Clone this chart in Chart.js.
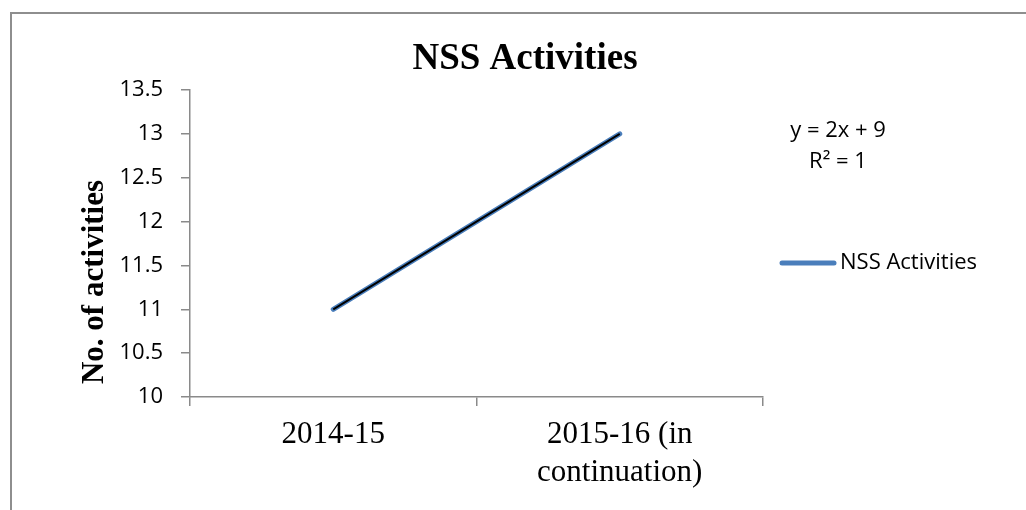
<!DOCTYPE html>
<html><head><meta charset="utf-8">
<script src="https://cdn.jsdelivr.net/npm/chart.js@4"></script>
<style>html,body{margin:0;padding:0;background:#fff;}#wrap{width:1026px;height:510px;position:relative;}</style>
</head><body><div id="wrap"><canvas id="c" width="1026" height="510"></canvas></div>
<script>
const chartTitle = 'NSS Activities';
const yAxisTitle = 'No. of activities';
const categories = [['2014-15'], ['2015-16 (in', 'continuation)']];
const seriesName = 'NSS Activities';
const activities = [11, 13];
const trendValues = [11, 13];
const trendEquation = ['y = 2x + 9', 'R\u00B2 = 1'];
const yMin = 10, yMax = 13.5, yStep = 0.5;

const AXIS_COLOR = '#8a8a8a';
const SERIES_COLOR = '#4a7ebb';
const SANS = '"Open Sans", "Noto Sans", sans-serif';
const SERIF = '"Liberation Serif", "DejaVu Serif", serif';

const decorPlugin = {
  id: 'decor',
  afterDraw(chart) {
    const ctx = chart.ctx;
    ctx.save();
    // outer frame (top and left edges)
    ctx.strokeStyle = '#8e8e8e';
    ctx.lineWidth = 2;
    ctx.beginPath();
    ctx.moveTo(1026, 13);
    ctx.lineTo(11, 13);
    ctx.lineTo(11, 510);
    ctx.stroke();
    // chart title
    ctx.fillStyle = '#000';
    ctx.font = 'bold 37px ' + SERIF;
    ctx.textAlign = 'center';
    ctx.textBaseline = 'alphabetic';
    ctx.fillText(chartTitle, 525, 69);
    // y axis title (rotated)
    ctx.save();
    ctx.translate(103, 282);
    ctx.rotate(-Math.PI / 2);
    ctx.font = 'bold 31px ' + SERIF;
    ctx.textAlign = 'center';
    ctx.textBaseline = 'alphabetic';
    ctx.fillText(yAxisTitle, 0, 0);
    ctx.restore();
    // trendline equation
    ctx.font = '22px ' + SANS;
    ctx.textAlign = 'center';
    ctx.textBaseline = 'middle';
    ctx.fillText(trendEquation[0], 838, 131);
    ctx.fillText(trendEquation[1], 838, 162);
    // legend
    const ds = chart.data.datasets.find(d => d.label === seriesName);
    ctx.strokeStyle = ds.borderColor;
    ctx.lineWidth = 5;
    ctx.lineCap = 'round';
    ctx.beginPath();
    ctx.moveTo(782, 263);
    ctx.lineTo(834, 263);
    ctx.stroke();
    ctx.textAlign = 'left';
    ctx.fillText(ds.label, 840, 263);
    ctx.restore();
  }
};

new Chart(document.getElementById('c'), {
  type: 'line',
  data: {
    labels: categories,
    datasets: [
      {
        label: 'Linear (' + seriesName + ')',
        data: trendValues,
        borderColor: '#000000',
        borderWidth: 2,
        pointRadius: 0,
        fill: false,
        tension: 0,
        order: 0
      },
      {
        label: seriesName,
        data: activities,
        borderColor: SERIES_COLOR,
        borderWidth: 5,
        borderCapStyle: 'round',
        pointRadius: 0,
        fill: false,
        tension: 0,
        order: 1
      }
    ]
  },
  options: {
    responsive: false,
    animation: false,
    devicePixelRatio: 1,
    layout: { padding: { left: 10, right: 263, top: 90, bottom: 0 } },
    plugins: {
      legend: { display: false },
      tooltip: { enabled: false },
      title: { display: false }
    },
    scales: {
      x: {
        type: 'category',
        offset: true,
        grid: {
          offset: true,
          drawOnChartArea: false,
          drawTicks: true,
          tickLength: 9,
          color: AXIS_COLOR,
          lineWidth: 1.5
        },
        border: { display: true, color: AXIS_COLOR, width: 1.5 },
        ticks: {
          color: '#000',
          font: { family: SERIF, size: 31, lineHeight: 1.22 },
          padding: 10,
          maxRotation: 0,
          autoSkip: false
        },
        afterFit(scale) { scale.height = 113; }
      },
      y: {
        min: yMin,
        max: yMax,
        grid: {
          drawOnChartArea: false,
          drawTicks: true,
          tickLength: 9,
          color: AXIS_COLOR,
          lineWidth: 1.5
        },
        border: { display: true, color: AXIS_COLOR, width: 1.5 },
        ticks: {
          stepSize: yStep,
          color: '#000',
          font: { family: SANS, size: 22 },
          padding: 18,
          callback: (v) => String(v)
        },
        title: { display: false },
        afterFit(scale) { scale.width = 180; }
      }
    }
  },
  plugins: [decorPlugin]
});
</script>
</body></html>
